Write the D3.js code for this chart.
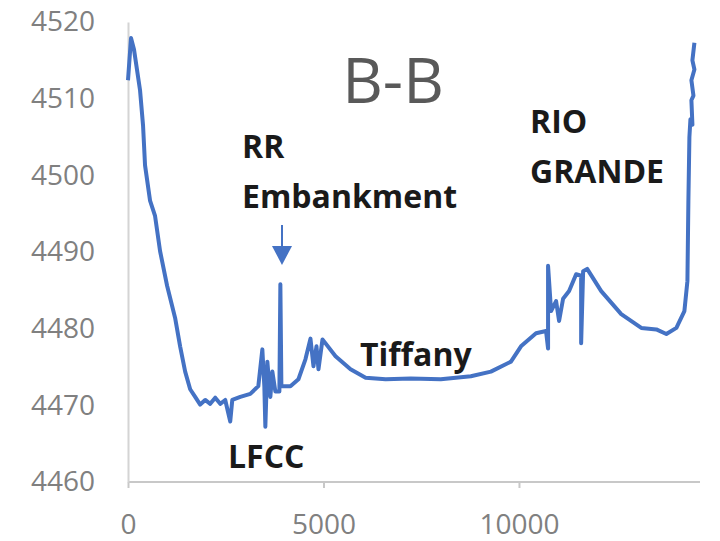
<!DOCTYPE html>
<html>
<head>
<meta charset="utf-8">
<script src="https://cdn.jsdelivr.net/npm/d3@7"></script>
<style>
  body { margin: 0; background: #fff; }
  svg { display: block; font-family: "Open Sans", "DejaVu Sans", sans-serif; }
</style>
</head>
<body>
<svg id="chart" width="720" height="541"></svg>
<script>
// station along the section (ft) and ground elevation (ft)
var distance = [0, 77, 154, 308, 385, 436, 564, 692, 821, 1000, 1205, 1333, 1462, 1590, 1718, 1846,
  1974, 2103, 2231, 2359, 2487, 2615, 2667, 2872, 3128, 3333, 3436, 3487, 3513, 3564, 3641, 3692,
  3769, 3872, 3897, 3923, 4154, 4359, 4538, 4667, 4744, 4821, 4872, 4974, 5308, 5692, 6077, 6590,
  7231, 8000, 8769, 9282, 9795, 10051, 10436, 10692, 10744, 10744, 10821, 10949, 11026, 11128, 11282,
  11462, 11590, 11590, 11641, 11744, 12103, 12615, 13128, 13513, 13769, 14026, 14231, 14308, 14333,
  14359, 14385, 14436, 14410, 14462, 14410, 14487, 14436, 14487];
var elevation = [4512.4, 4517.9, 4516.4, 4511.1, 4506.5, 4501.3, 4496.7, 4494.7, 4490.1, 4485.6, 4481.4,
  4477.7, 4474.4, 4472.1, 4471.1, 4470.1, 4470.7, 4470.2, 4471.0, 4470.2, 4470.7, 4467.9, 4470.7,
  4471.1, 4471.5, 4472.5, 4477.3, 4472.5, 4467.2, 4475.7, 4471.1, 4474.4, 4471.8, 4471.8, 4485.8,
  4472.5, 4472.5, 4473.4, 4476.0, 4478.7, 4475.1, 4477.7, 4474.7, 4478.6, 4476.4, 4474.7, 4473.6,
  4473.4, 4473.5, 4473.4, 4473.8, 4474.4, 4475.7, 4477.7, 4479.4, 4479.7, 4477.4, 4488.2, 4482.3,
  4483.6, 4481.0, 4483.9, 4484.9, 4487.1, 4486.9, 4478.1, 4487.5, 4487.8, 4484.9, 4481.9, 4480.1,
  4479.9, 4479.3, 4480.1, 4482.3, 4486.2, 4496.7, 4505.0, 4507.3, 4506.6, 4509.8, 4510.4, 4512.4,
  4513.8, 4515.0, 4517.3];

var xTicks = [0, 5000, 10000];
var yTicks = [4460, 4470, 4480, 4490, 4500, 4510, 4520];

var title = "B-B";
var notes = [
  { lines: ["RR", "Embankment"], x: 242, y: 158 },
  { lines: ["LFCC"], x: 228, y: 468 },
  { lines: ["Tiffany"], x: 360, y: 366 },
  { lines: ["RIO", "GRANDE"], x: 530, y: 133 }
];

var blue = "#4472c4";
var svg = d3.select("#chart");

var x = d3.scaleLinear().domain([0, 14630]).range([128, 700]);
var y = d3.scaleLinear().domain([4460, 4520]).range([482, 22]);

// axis lines, Excel style (light grey, no y ticks)
var xAxis = d3.axisBottom(x).tickValues(xTicks).tickSize(6).tickFormat(d3.format("d"));
var gx = svg.append("g").attr("transform", "translate(0," + y(4460) + ")").call(xAxis);
gx.select(".domain").attr("d", "M" + x(0) + ",0H" + x(14630)).attr("stroke", "#c8c8c8").attr("stroke-width", 2);
gx.selectAll(".tick line").attr("stroke", "#c8c8c8").attr("stroke-width", 2);
gx.selectAll(".tick text").attr("y", 52).attr("dy", 0).attr("fill", "#808080")
  .style("font-size", "28px").style("font-family", "'Open Sans', sans-serif");

var yAxis = d3.axisLeft(y).tickValues(yTicks).tickSize(0).tickPadding(33).tickFormat(d3.format("d"));
var gy = svg.append("g").attr("transform", "translate(" + x(0) + ",0)").call(yAxis);
gy.select(".domain").attr("stroke", "#d4d4d4").attr("stroke-width", 2);
gy.selectAll(".tick text").attr("fill", "#808080")
  .style("font-size", "28px").style("font-family", "'Open Sans', sans-serif");

// profile line
var line = d3.line().x(function(d, i) { return x(distance[i]); }).y(function(d) { return y(d); });
svg.append("path").datum(elevation).attr("d", line)
  .attr("fill", "none").attr("stroke", blue).attr("stroke-width", 4).attr("stroke-linejoin", "round");

// title
svg.append("text").attr("x", 393).attr("y", 103).attr("text-anchor", "middle")
  .attr("fill", "#595959").style("font-size", "63px").text(title);

// annotations
notes.forEach(function(n) {
  n.lines.forEach(function(t, i) {
    svg.append("text").attr("x", n.x).attr("y", n.y + i * 50)
      .attr("fill", "#1a1a1a").style("font-size", "32px").style("font-weight", "bold").text(t);
  });
});

// arrow to the embankment
svg.append("line").attr("x1", 282).attr("y1", 225).attr("x2", 282).attr("y2", 248)
  .attr("stroke", blue).attr("stroke-width", 2);
svg.append("path").attr("d", "M272,246L292,246L282,265Z").attr("fill", blue);
</script>
</body>
</html>
